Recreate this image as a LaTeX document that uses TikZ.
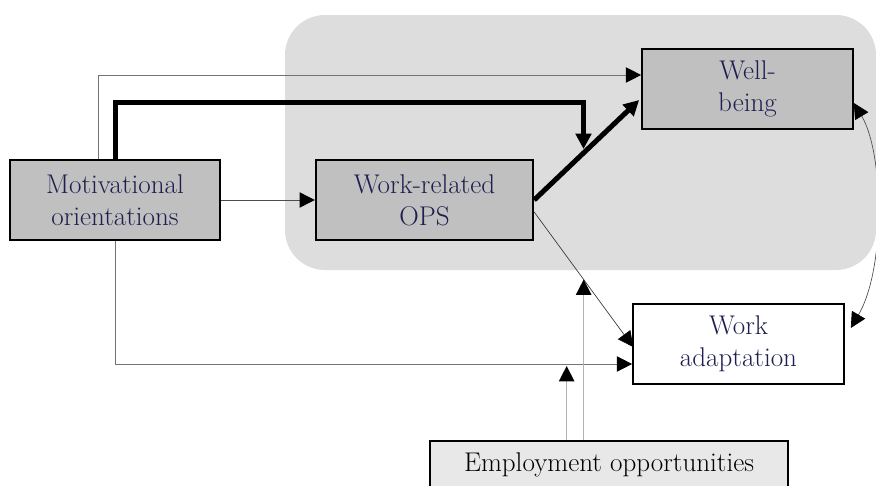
\documentclass[tikz,border=0pt]{standalone}
\usepackage{fontspec}
\usepackage{tikz}
\usetikzlibrary{arrows.meta,calc}

\definecolor{regiongray}{HTML}{DDDDDD}
\definecolor{boxgray}{HTML}{C0C0C0}
\definecolor{empgray}{HTML}{E8E8E8}
\definecolor{labelnavy}{HTML}{1E1E50}

\begin{document}
\begin{tikzpicture}[x=0.75pt,y=-0.75pt,>={Triangle[length=11.5pt,width=11.5pt,color=black]},
                    font=\fontsize{20.3}{24}\selectfont]
  \tikzstyle{every node}=[align=center,text=labelnavy]
  \tikzstyle{factor}=[draw=black,line width=1.5pt,fill=boxgray,inner sep=0pt,
                      minimum width=158pt,minimum height=60pt]
  \tikzstyle{outcome}=[factor,fill=white]
  \tikzstyle{context}=[factor,fill=empgray,text=black,minimum width=268.5pt,
                       minimum height=36pt]
  \tikzstyle{thinline}=[->,draw=black!55,line width=0.75pt]
  \tikzstyle{boldline}=[->,draw=black,line width=3.75pt]
  \tikzstyle{modline}=[->,draw=black!30,line width=1.1pt]

  \useasboundingbox (0,0) rectangle (876,486);
  \fill[regiongray,rounded corners=30pt] (285,15) rectangle (876,270);

  \node[factor]  (mot) at (115,200)   {Motivational\\orientations};
  \node[factor,minimum width=163pt] (ops) at (424.5,200) {Work-related\\OPS};
  \node[factor]  (wb)  at (747.5,89)  {Well-\\being};
  \node[outcome] (wa)  at (738.5,344) {Work\\adaptation};
  \node[context] (emp) at (609,465)   {Employment opportunities};

  % helper points on the paths
  \path (ops.east) -- ($(wb.west)+(-2,11)$) coordinate[pos=0.47] (m);
  \path ($(ops.east)+(0,12)$) -- ($(wa.west)+(1,3)$) coordinate[pos=0.5] (n);
  \coordinate (low) at ($(wa.west)+(0,20)$);

  \draw[thinline] ($(mot.north)+(-17,0)$) |- ($(wb.west)+(0,-14)$);
  \draw[boldline] (mot.north) -- ++(0,-57) -| ([yshift=3pt]m);
  \draw[boldline] (ops.east) -- ($(wb.west)+(-2,11)$);
  \draw[thinline,draw=black!70] (mot.east) -- (ops.west);
  \draw[thinline] (mot.south) |- (low);
  \draw[thinline,draw=black!80,line width=0.5pt] ($(ops.east)+(0,12)$) -- ($(wa.west)+(1,3)$);
  \draw[modline] ($(n |- emp.north)+(-17,0)$) -- ($(n |- low)+(-17,2)$);
  \draw[modline] (n |- emp.north) -- (n);
  \draw[thinline,<->,draw=black!70,line width=0.5pt] ($(wb.east)+(0,14)$)
      .. controls +(30,50) and +(35,-60) .. ($(wa.east)+(6,-16)$);
\end{tikzpicture}
\end{document}
